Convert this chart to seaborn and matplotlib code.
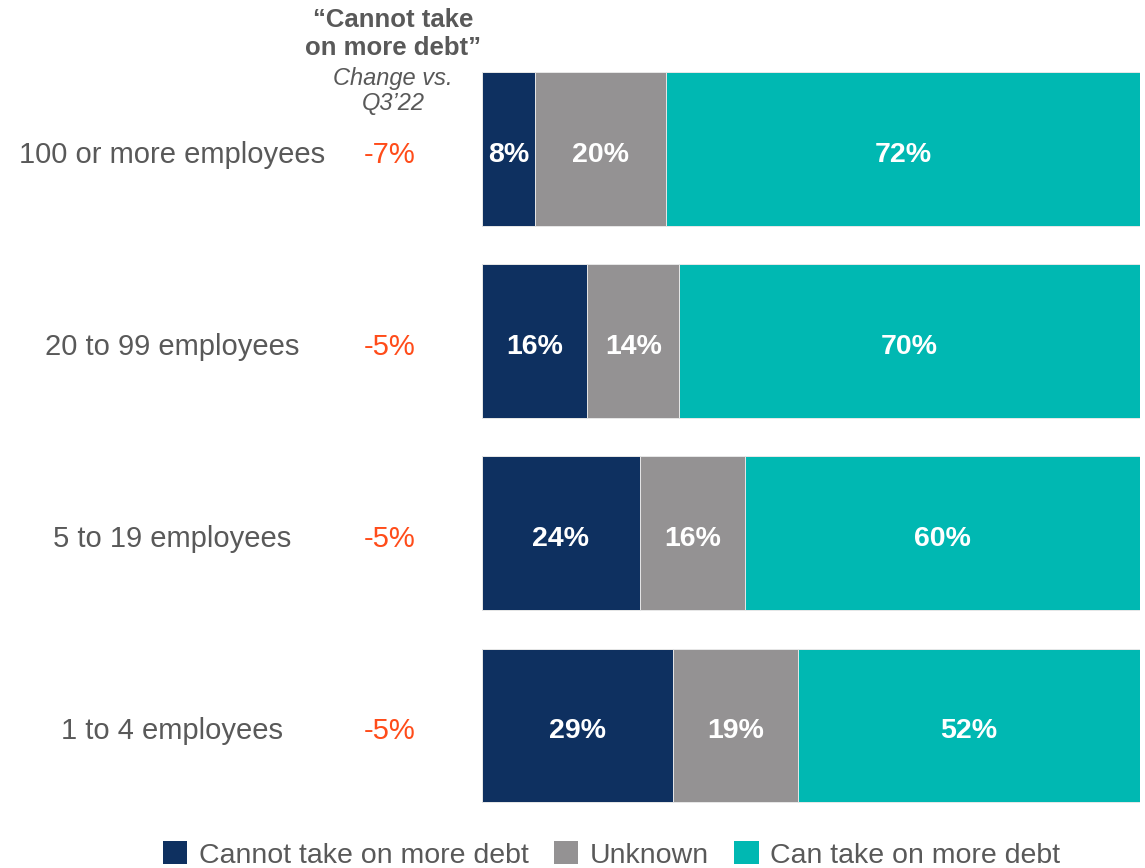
import numpy as np
import pandas as pd
import seaborn as sns
import matplotlib.pyplot as plt
import matplotlib.transforms as mtransforms
from matplotlib.patches import Patch

# Survey shares by firm size (percent)
categories = ["100 or more employees", "20 to 99 employees", "5 to 19 employees", "1 to 4 employees"]
cannot_take = [8, 16, 24, 29]
unknown = [20, 14, 16, 19]
can_take = [72, 70, 60, 52]
change_vs_q3 = ["-7%", "-5%", "-5%", "-5%"]
series_names = ["Cannot take on more debt", "Unknown", "Can take on more debt"]

colors = ["#0E3060", "#949293", "#00B8B2"]
text_grey = "#595959"
change_color = "#FF4C1A"

sns.set_theme(style="white")
plt.rcParams["font.family"] = ["Liberation Sans", "DejaVu Sans"]

df = pd.DataFrame({
    "category": categories,
    "cannot": cannot_take,
    "unknown": unknown,
    "can": can_take,
})
df["cum1"] = df["cannot"]
df["cum2"] = df["cannot"] + df["unknown"]
df["cum3"] = df["cum2"] + df["can"]

fig = plt.figure(figsize=(11.45, 8.68), dpi=100)
ax = fig.add_axes([482 / 1145, 1 - 821.5 / 868, (1140 - 482) / 1145, (821.5 - 53) / 868])

# Stacked bars drawn back-to-front from cumulative totals
for col, color in zip(["cum3", "cum2", "cum1"], colors[::-1]):
    sns.barplot(data=df, x=col, y="category", orient="h", color=color,
                width=0.8, edgecolor="#e8e8e8", linewidth=0.7, saturation=1, ax=ax)

ax.set_xlim(0, 100)
ax.set_ylim(3.5, -0.5)
ax.set_xlabel("")
ax.set_ylabel("")
ax.set_xticks([])
ax.set_yticks([])
sns.despine(ax=ax, left=True, bottom=True)

# Value labels centered in each segment
for i in range(len(categories)):
    starts = [0, df["cum1"][i], df["cum2"][i]]
    vals = [cannot_take[i], unknown[i], can_take[i]]
    for s, v in zip(starts, vals):
        ax.text(s + v / 2, i + 0.03, f"{v}%", ha="center", va="center",
                color="white", fontsize=20.5, fontweight="bold")

# Category labels and change column in figure x / data y
trans = mtransforms.blended_transform_factory(fig.transFigure, ax.transData)
for i, (cat, chg) in enumerate(zip(categories, change_vs_q3)):
    ax.text(172 / 1145, i + 0.03, cat, transform=trans, ha="center", va="center",
            fontsize=21, color=text_grey)
    ax.text(390 / 1145, i + 0.03, chg, transform=trans, ha="center", va="center",
            fontsize=21, color=change_color)

# Column header
fig.text(393 / 1145, 1 - 34 / 868, "\u201cCannot take\non more debt\u201d", ha="center", va="center",
         fontsize=18.5, fontweight="bold", color=text_grey, linespacing=1.2)
fig.text(393 / 1145, 1 - 91 / 868, "Change vs.\nQ3\u201922", ha="center", va="center",
         fontsize=17, fontstyle="italic", color=text_grey, linespacing=1.15)

handles = [Patch(facecolor=c, edgecolor="none") for c in colors]
fig.legend(handles, series_names, loc="center", bbox_to_anchor=(611.5 / 1145, 1 - 855 / 868),
           ncol=3, frameon=False, fontsize=20.5, handlelength=0.85, handleheight=0.85,
           handletextpad=0.4, columnspacing=0.9, labelcolor=text_grey, borderaxespad=0)

fig.savefig("out.png", dpi=100)
